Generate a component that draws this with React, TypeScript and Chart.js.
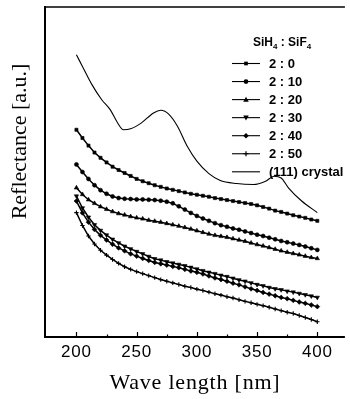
import React, { useEffect, useRef } from 'react';
import { Chart, registerables } from 'chart.js';

Chart.register(...registerables);

// ---- data ----
const wavelengths = [
  200, 205, 210, 215, 220, 225, 230, 235, 240, 245, 250, 255, 260, 265, 270, 275, 280, 285, 290, 295,
  300, 305, 310, 315, 320, 325, 330, 335, 340, 345, 350, 355, 360, 365, 370, 375, 380, 385, 390, 395, 400,
];

const ratio2_0 = [
  6.28, 6.03, 5.8, 5.59, 5.43, 5.29, 5.16, 5.06, 4.97, 4.88, 4.79, 4.72, 4.66, 4.6, 4.55, 4.5, 4.46, 4.42, 4.38, 4.34,
  4.31, 4.28, 4.25, 4.21, 4.18, 4.15, 4.12, 4.09, 4.06, 4.03, 3.99, 3.94, 3.89, 3.83, 3.79, 3.74, 3.69, 3.65, 3.61, 3.56, 3.52,
];
const ratio2_10 = [
  5.23, 5.0, 4.79, 4.6, 4.45, 4.34, 4.26, 4.21, 4.19, 4.18, 4.17, 4.17, 4.16, 4.15, 4.13, 4.1, 4.05, 3.96, 3.86, 3.76,
  3.67, 3.59, 3.52, 3.45, 3.39, 3.34, 3.29, 3.25, 3.2, 3.15, 3.1, 3.06, 3.01, 2.96, 2.91, 2.87, 2.83, 2.79, 2.74, 2.69, 2.64,
];
const ratio2_20 = [
  4.52, 4.32, 4.16, 4.05, 3.95, 3.87, 3.8, 3.74, 3.7, 3.65, 3.61, 3.58, 3.54, 3.51, 3.48, 3.44, 3.4, 3.36, 3.32, 3.27,
  3.22, 3.17, 3.12, 3.08, 3.05, 3.02, 2.98, 2.94, 2.9, 2.85, 2.8, 2.76, 2.71, 2.66, 2.61, 2.57, 2.53, 2.49, 2.45, 2.41, 2.38,
];
const ratio2_30 = [
  4.27, 3.91, 3.63, 3.4, 3.23, 3.09, 2.96, 2.85, 2.75, 2.67, 2.59, 2.52, 2.44, 2.37, 2.33, 2.28, 2.24, 2.2, 2.16, 2.11,
  2.06, 2.01, 1.96, 1.92, 1.87, 1.83, 1.78, 1.73, 1.69, 1.64, 1.59, 1.55, 1.5, 1.46, 1.43, 1.39, 1.36, 1.32, 1.28, 1.24, 1.2,
];
const ratio2_40 = [
  4.12, 3.76, 3.48, 3.26, 3.08, 2.94, 2.81, 2.7, 2.61, 2.52, 2.45, 2.38, 2.32, 2.26, 2.22, 2.18, 2.14, 2.1, 2.05, 2.0,
  1.96, 1.91, 1.85, 1.79, 1.74, 1.69, 1.63, 1.58, 1.52, 1.46, 1.41, 1.35, 1.3, 1.25, 1.2, 1.16, 1.11, 1.06, 1.02, 0.97, 0.92,
];
const ratio2_50 = [
  3.77, 3.38, 3.06, 2.82, 2.63, 2.48, 2.35, 2.23, 2.13, 2.05, 1.98, 1.92, 1.86, 1.8, 1.74, 1.69, 1.64, 1.59, 1.54, 1.5,
  1.45, 1.41, 1.36, 1.31, 1.27, 1.22, 1.18, 1.13, 1.08, 1.04, 0.99, 0.95, 0.9, 0.85, 0.8, 0.75, 0.71, 0.65, 0.59, 0.53, 0.46,
];

const crystalWavelengths = [
  200, 205, 213, 221, 228, 234, 239, 245, 254, 264, 270, 277, 284, 292, 300, 310, 319, 333, 347, 357, 364, 370, 376, 387, 400,
];
const crystalValues = [
  8.55, 8.2, 7.64, 7.19, 6.89, 6.5, 6.28, 6.31, 6.49, 6.79, 6.87, 6.74, 6.38, 5.78, 5.33, 4.95, 4.75, 4.65, 4.62, 4.72,
  4.87, 4.82, 4.52, 4.12, 3.77,
];

const seriesLabels = ['2 : 0', '2 : 10', '2 : 20', '2 : 30', '2 : 40', '2 : 50'];
const crystalLabel = '(111) crystal';
const seriesValues = [ratio2_0, ratio2_10, ratio2_20, ratio2_30, ratio2_40, ratio2_50];
const xTickValues = [200, 250, 300, 350, 400];
const xMinorTickValues = [225, 275, 325, 375];
const xTitle = 'Wave length [nm]';
const yTitle = 'Reflectance [a.u.]';

// ---- styles ----
const markerStyles = [
  { style: 'rect', radius: 2.2, rotation: 0 },
  { style: 'circle', radius: 2.0, rotation: 0 },
  { style: 'triangle', radius: 2.5, rotation: 0 },
  { style: 'triangle', radius: 2.5, rotation: 180 },
  { style: 'rectRot', radius: 2.4, rotation: 0 },
  { style: 'cross', radius: 2.2, rotation: 0 },
];

function drawMarker(ctx: CanvasRenderingContext2D, style: string, rotation: number, x: number, y: number, r: number) {
  ctx.save();
  ctx.translate(x, y);
  ctx.rotate((rotation * Math.PI) / 180);
  ctx.beginPath();
  if (style === 'rect') {
    const s = r * Math.SQRT1_2;
    ctx.rect(-s, -s, 2 * s, 2 * s);
    ctx.fill();
  } else if (style === 'circle') {
    ctx.arc(0, 0, r, 0, Math.PI * 2);
    ctx.fill();
  } else if (style === 'triangle') {
    ctx.moveTo(0, -r);
    ctx.lineTo(r * 0.95, r * 0.7);
    ctx.lineTo(-r * 0.95, r * 0.7);
    ctx.closePath();
    ctx.fill();
  } else if (style === 'rectRot') {
    ctx.moveTo(0, -r);
    ctx.lineTo(r, 0);
    ctx.lineTo(0, r);
    ctx.lineTo(-r, 0);
    ctx.closePath();
    ctx.fill();
  } else if (style === 'cross') {
    ctx.moveTo(0, -r);
    ctx.lineTo(0, r);
    ctx.moveTo(-r, 0);
    ctx.lineTo(r, 0);
    ctx.stroke();
  }
  ctx.restore();
}

const framePlugin = {
  id: 'frameAndLegend',
  beforeDraw(chart: any) {
    (chart.ctx as any).letterSpacing = '0.8px';
  },
  beforeDatasetsDraw(chart: any) {
    (chart.ctx as any).letterSpacing = '0px';
  },
  afterDraw(chart: any) {
    const ctx: CanvasRenderingContext2D = chart.ctx;
    const ca = chart.chartArea;
    const xs = chart.scales.x;
    ctx.save();
    (ctx as any).letterSpacing = '0px';
    ctx.strokeStyle = '#000';
    ctx.fillStyle = '#000';

    // frame: left, top, bottom
    ctx.lineWidth = 2;
    ctx.beginPath();
    ctx.moveTo(ca.left, ca.top - 1);
    ctx.lineTo(ca.left, ca.bottom + 1);
    ctx.stroke();
    ctx.beginPath();
    ctx.moveTo(ca.left - 1, ca.bottom);
    ctx.lineTo(ca.right, ca.bottom);
    ctx.stroke();
    ctx.lineWidth = 1.6;
    ctx.beginPath();
    ctx.moveTo(ca.left - 1, ca.top);
    ctx.lineTo(ca.right, ca.top);
    ctx.stroke();

    // inward ticks on bottom axis
    ctx.lineWidth = 1.2;
    xTickValues.forEach((v) => {
      const px = Math.round(xs.getPixelForValue(v)) + 0.5;
      ctx.beginPath();
      ctx.moveTo(px, ca.bottom);
      ctx.lineTo(px, ca.bottom - 5);
      ctx.stroke();
    });
    xMinorTickValues.forEach((v) => {
      const px = Math.round(xs.getPixelForValue(v)) + 0.5;
      ctx.beginPath();
      ctx.moveTo(px, ca.bottom);
      ctx.lineTo(px, ca.bottom - 2.5);
      ctx.stroke();
    });

    // y axis title
    ctx.save();
    ctx.font = '22px "Liberation Serif", "Times New Roman", serif';
    ctx.textAlign = 'center';
    ctx.textBaseline = 'alphabetic';
    ctx.translate(26, 141.5);
    ctx.rotate(-Math.PI / 2);
    ctx.fillText(yTitle, 0, 0);
    ctx.restore();

    // legend title: SiH4 : SiF4
    const bold = (s: number) => `bold ${s}px "Liberation Sans", Arial, sans-serif`;
    let tx = 253;
    const ty = 45.5;
    ctx.textAlign = 'left';
    ctx.textBaseline = 'alphabetic';
    const parts: [string, boolean][] = [
      ['SiH', false],
      ['4', true],
      [' : SiF', false],
      ['4', true],
    ];
    parts.forEach(([t, sub]) => {
      ctx.font = sub ? bold(8) : bold(12);
      ctx.fillText(t, tx, sub ? ty + 3 : ty);
      tx += ctx.measureText(t).width;
    });

    // legend entries
    ctx.font = bold(13);
    ctx.textBaseline = 'middle';
    const entryY0 = 63.5;
    const step = 18.05;
    const all = [...seriesLabels, crystalLabel];
    all.forEach((label, i) => {
      const y = entryY0 + i * step;
      ctx.lineWidth = 1.1;
      ctx.beginPath();
      ctx.moveTo(232, y);
      ctx.lineTo(260, y);
      ctx.stroke();
      if (i < markerStyles.length) {
        const m = markerStyles[i];
        ctx.lineWidth = 1.2;
        drawMarker(ctx, m.style, m.rotation, 246, y, m.radius + 0.4);
      }
      ctx.fillText(label, 269, y + 1);
    });

    ctx.restore();
  },
};

export default function App() {
  const canvasRef = useRef<HTMLCanvasElement | null>(null);

  useEffect(() => {
    if (!canvasRef.current) return;
    const datasets: any[] = seriesValues.map((vals, i) => ({
      label: seriesLabels[i],
      data: wavelengths.map((w, j) => ({ x: w, y: vals[j] })),
      borderColor: '#000',
      backgroundColor: '#000',
      borderWidth: 1.5,
      pointStyle: markerStyles[i].style,
      pointRotation: markerStyles[i].rotation,
      pointRadius: markerStyles[i].radius,
      pointBorderWidth: markerStyles[i].style === 'cross' ? 1.1 : 0.6,
      pointBorderColor: '#000',
      pointBackgroundColor: '#000',
      tension: 0,
      fill: false,
    }));
    datasets.push({
      label: crystalLabel,
      data: crystalWavelengths.map((w, j) => ({ x: w, y: crystalValues[j] })),
      borderColor: '#000',
      backgroundColor: '#000',
      borderWidth: 1.1,
      pointRadius: 0,
      cubicInterpolationMode: 'monotone',
      fill: false,
    });

    const chart = new Chart(canvasRef.current, {
      type: 'line',
      data: { datasets },
      options: {
        animation: false,
        responsive: false,
        devicePixelRatio: 1,
        layout: { padding: { left: 45, top: 7, right: 0, bottom: 0 } },
        plugins: {
          legend: { display: false },
          tooltip: { enabled: false },
        },
        scales: {
          x: {
            type: 'linear',
            position: 'bottom',
            min: 173.9,
            max: 422.9,
            grid: { display: false },
            border: { display: false },
            afterFit: (scale: any) => {
              scale.height = 62;
            },
            afterBuildTicks: (scale: any) => {
              scale.ticks = xTickValues.map((v) => ({ value: v }));
            },
            ticks: {
              autoSkip: false,
              maxRotation: 0,
              minRotation: 0,
              padding: -3,
              color: '#000',
              font: { family: '"Liberation Sans", Arial, sans-serif', size: 17 },
              callback: (v: any) => String(v),
            },
            title: {
              display: true,
              text: xTitle,
              color: '#000',
              font: { family: '"Liberation Serif", "Times New Roman", serif', size: 22 },
              padding: { top: 0, bottom: 3 },
            },
          },
          y: {
            display: false,
            min: 0,
            max: 10,
          },
        },
      },
      plugins: [framePlugin],
    } as any);

    return () => chart.destroy();
  }, []);

  return (
    <div style={{ position: 'absolute', left: 0, top: 0, width: 350, height: 399, background: '#fff' }}>
      <canvas ref={canvasRef} width={350} height={399} style={{ width: 350, height: 399, display: 'block' }} />
    </div>
  );
}
